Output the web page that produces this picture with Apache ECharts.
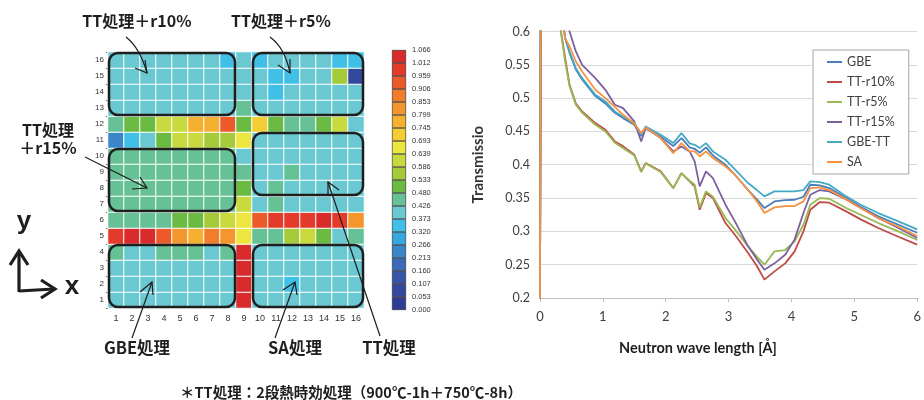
<!DOCTYPE html>
<html><head><meta charset="utf-8">
<script src="https://cdn.jsdelivr.net/npm/echarts@6/dist/echarts.min.js"></script>
<style>html,body{margin:0;padding:0;background:#fff}#c{width:924px;height:400px}</style>
</head><body><div id="c"></div><script>
// ---------- heatmap data ----------
const colLabels = ['1','2','3','4','5','6','7','8','9','10','11','12','13','14','15','16'];
const rowLabels = ['1','2','3','4','5','6','7','8','9','10','11','12','13','14','15','16'];
const row1  = [0.40,0.40,0.40,0.40,0.40,0.40,0.40,0.40,1.04,0.40,0.40,0.40,0.40,0.40,0.40,0.40];
const row2  = [0.40,0.40,0.40,0.40,0.40,0.40,0.40,0.40,1.04,0.40,0.40,0.35,0.40,0.40,0.40,0.40];
const row3  = [0.40,0.40,0.40,0.40,0.40,0.40,0.40,0.40,1.04,0.40,0.40,0.40,0.40,0.40,0.40,0.40];
const row4  = [0.45,0.40,0.40,0.45,0.45,0.45,0.40,0.45,1.04,0.40,0.40,0.40,0.40,0.40,0.40,0.40];
const row5  = [0.99,1.04,1.04,0.93,0.83,0.77,0.88,0.83,0.66,0.45,0.45,0.56,0.61,0.51,0.40,0.45];
const row6  = [0.45,0.45,0.45,0.45,0.51,0.51,0.56,0.61,0.66,0.93,0.99,0.99,0.99,1.04,0.99,0.83];
const row7  = [0.45,0.45,0.45,0.45,0.45,0.45,0.45,0.45,0.61,0.40,0.45,0.40,0.40,0.40,0.40,0.40];
const row8  = [0.45,0.45,0.45,0.45,0.45,0.45,0.45,0.45,0.51,0.40,0.45,0.40,0.40,0.40,0.40,0.40];
const row9  = [0.45,0.45,0.45,0.45,0.45,0.45,0.45,0.45,0.45,0.40,0.40,0.45,0.40,0.40,0.40,0.40];
const row10 = [0.45,0.45,0.45,0.45,0.45,0.45,0.45,0.45,0.40,0.40,0.40,0.40,0.40,0.40,0.40,0.40];
const row11 = [0.24,0.35,0.40,0.51,0.61,0.61,0.56,0.56,0.66,0.40,0.40,0.40,0.40,0.40,0.40,0.40];
const row12 = [0.45,0.51,0.51,0.61,0.61,0.77,0.77,0.93,0.51,0.72,0.51,0.45,0.45,0.51,0.61,0.40];
const row13 = [0.40,0.40,0.40,0.40,0.40,0.40,0.40,0.40,0.45,0.40,0.40,0.40,0.40,0.40,0.40,0.40];
const row14 = [0.40,0.40,0.40,0.40,0.40,0.40,0.40,0.40,0.40,0.40,0.35,0.40,0.40,0.40,0.40,0.40];
const row15 = [0.40,0.40,0.40,0.40,0.40,0.40,0.40,0.40,0.40,0.40,0.35,0.35,0.40,0.40,0.56,0.08];
const row16 = [0.40,0.40,0.40,0.40,0.40,0.40,0.40,0.35,0.40,0.35,0.40,0.40,0.40,0.40,0.35,0.35];
const cellRows = [row1,row2,row3,row4,row5,row6,row7,row8,row9,row10,row11,row12,row13,row14,row15,row16];

// colour-scale tick labels (band boundaries) and band colours (low -> high)
const scaleTicks = ['0.000','0.053','0.107','0.160','0.213','0.266','0.320','0.373','0.426','0.480','0.533','0.586','0.639','0.693','0.745','0.799','0.853','0.906','0.959','1.012','1.066'];
const scaleColors = ['#2f3c96','#34489e','#3755a8','#3a6ab8','#3a86c8','#35a8de','#40c0e6','#6ac8d2','#66c196','#6bbb42','#a5cb3b','#c9da3e','#ece63f','#f4cc34','#f6b02f','#f4962e','#f07c2c','#ec5a2a','#e33a2a','#d92b2b'];

// ---------- transmission data ----------
const lambda = [0,0.02,0.3,0.4,0.47,0.57,0.67,0.88,1.04,1.19,1.32,1.50,1.61,1.68,1.92,2.12,2.25,2.38,2.46,2.54,2.64,2.75,2.95,3.10,3.31,3.45,3.57,3.73,3.90,4.05,4.19,4.30,4.45,4.60,4.87,5.10,5.38,5.70,6.0];
const seriesNames = ['GBE','TT-r10%','TT-r5%','TT-r15%','GBE-TT','SA'];
const gbe   = [0.19,1.0,0.66,0.59,0.568,0.543,0.528,0.503,0.492,0.478,0.47,0.46,0.443,0.455,0.442,0.428,0.44,0.426,0.424,0.418,0.426,0.414,0.40,0.385,0.362,0.348,0.335,0.345,0.347,0.3475,0.352,0.37,0.369,0.365,0.35,0.337,0.3225,0.31,0.298];
const ttr10 = [0.19,1.0,0.62,0.56,0.52,0.492,0.48,0.4625,0.4525,0.435,0.428,0.415,0.39,0.4025,0.39,0.365,0.3875,0.375,0.3675,0.3325,0.3575,0.35,0.3125,0.295,0.2675,0.248,0.2275,0.24,0.252,0.27,0.30,0.3325,0.344,0.343,0.33,0.318,0.305,0.292,0.28];
const ttr5  = [0.19,1.0,0.62,0.555,0.518,0.49,0.478,0.46,0.45,0.433,0.425,0.414,0.389,0.402,0.389,0.365,0.387,0.376,0.37,0.336,0.36,0.352,0.32,0.303,0.2775,0.262,0.25,0.27,0.272,0.285,0.31,0.34,0.35,0.349,0.335,0.325,0.3125,0.30,0.287];
const ttr15 = [0.19,1.0,0.70,0.64,0.60,0.57,0.55,0.53,0.5125,0.49,0.485,0.465,0.435,0.455,0.44,0.42,0.4275,0.42,0.405,0.3675,0.39,0.38,0.34,0.315,0.2775,0.258,0.2425,0.252,0.265,0.288,0.3275,0.355,0.362,0.36,0.348,0.335,0.32,0.305,0.29];
const gbett = [0.19,1.0,0.66,0.59,0.57,0.545,0.53,0.505,0.495,0.48,0.472,0.4625,0.445,0.4575,0.445,0.4325,0.4475,0.432,0.43,0.425,0.4325,0.42,0.4075,0.393,0.3725,0.362,0.3525,0.36,0.36,0.36,0.362,0.375,0.374,0.37,0.3525,0.34,0.3275,0.315,0.303];
const sa    = [0.19,1.0,0.66,0.59,0.5775,0.555,0.54,0.5125,0.50,0.487,0.475,0.462,0.4475,0.456,0.44,0.4175,0.4325,0.42,0.42,0.4125,0.42,0.41,0.3975,0.385,0.362,0.345,0.3275,0.336,0.338,0.338,0.345,0.365,0.366,0.362,0.348,0.335,0.32,0.307,0.293];
const lineValues = [gbe, ttr10, ttr5, ttr15, gbett, sa];
const lineColors = ['#4a7ebb','#be4b48','#98b954','#7d60a0','#46aac5','#f69240'];

// annotation boxes on the map: [firstCol,lastCol,firstRow,lastRow]
const boxes = [[1,8,13,16],[10,16,13,16],[1,8,7,10],[10,16,8,11],[1,8,1,4],[10,16,1,4]];

const chart = echarts.init(document.getElementById('c'), null, {renderer:'canvas'});

const heatData = [];
cellRows.forEach((r, ri) => r.forEach((v, ci) => heatData.push([ci, ri, v])));
const thresholds = scaleTicks.map(Number);
const pieces = scaleColors.map((c, i) => ({gte: thresholds[i], lt: i === scaleColors.length - 1 ? 10 : thresholds[i+1], color: c}));

const series = [{
  type: 'heatmap', xAxisIndex: 0, yAxisIndex: 0, data: heatData,
  itemStyle: {borderColor: '#ffffff', borderWidth: 1}
}];
scaleColors.forEach((c, i) => series.push({
  type: 'bar', xAxisIndex: 1, yAxisIndex: 1, stack: 'scale', data: [1], barWidth: '100%',
  itemStyle: {color: c, borderColor: '#222', borderWidth: 0.6}, silent: true
}));
seriesNames.forEach((n, i) => series.push({
  type: 'line', name: n, xAxisIndex: 2, yAxisIndex: 2, symbol: 'none', clip: true,
  data: lambda.map((x, k) => [x, lineValues[i][k]]),
  lineStyle: {color: lineColors[i], width: 1.8}, itemStyle: {color: lineColors[i]}
}));

const option = {
  animation: false,
  textStyle: {fontFamily: 'Liberation Sans'},
  grid: [
    {left: 108, top: 52, width: 256, height: 256},
    {left: 392, top: 50, width: 14, height: 260},
    {left: 540, top: 31.5, width: 386, height: 266.5}
  ],
  xAxis: [
    {gridIndex: 0, type: 'category', data: colLabels, axisLine: {show: false}, axisTick: {show: false},
     axisLabel: {fontSize: 9, color: '#333', margin: 6}},
    {gridIndex: 1, type: 'category', data: [''], show: false},
    {gridIndex: 2, type: 'value', min: 0, max: 6, interval: 1,
     axisLine: {lineStyle: {color: '#bfbfbf'}}, axisTick: {show: true, length: 4, lineStyle: {color: '#bfbfbf'}},
     splitLine: {show: false}, axisLabel: {fontSize: 13, color: '#404040', margin: 12, fontFamily: 'Lato'}}
  ],
  yAxis: [
    {gridIndex: 0, type: 'category', data: rowLabels, axisLine: {show: false},
     axisTick: {show: true, length: 2, lineStyle: {color: '#666'}},
     axisLabel: {fontSize: 8, color: '#333', margin: 4}},
    {gridIndex: 1, type: 'value', min: 0, max: 20, interval: 1, position: 'right',
     axisLine: {show: false}, axisTick: {show: false}, splitLine: {show: false},
     axisLabel: {fontSize: 7.5, color: '#333', margin: 6, formatter: v => scaleTicks[Math.round(v)]}},
    {gridIndex: 2, type: 'value', min: 0.2, max: 0.6, interval: 0.05,
     axisLine: {show: false}, axisTick: {show: false},
     splitLine: {lineStyle: {color: '#d9d9d9'}},
     axisLabel: {fontSize: 12.5, color: '#404040', margin: 10, fontFamily: 'Lato'},
     name: 'Transmissio', nameLocation: 'middle', nameGap: 54, nameRotate: 90,
     nameTextStyle: {fontSize: 15, fontWeight: 'bold', color: '#333', fontFamily: 'Lato'}}
  ],
  visualMap: {type: 'piecewise', show: false, seriesIndex: 0, dimension: 2, pieces: pieces},
  legend: {
    data: seriesNames, orient: 'vertical', left: 813, top: 50, icon: 'rect', itemWidth: 15, itemHeight: 2,
    itemGap: 6, itemTextGap: 3, padding: [5, 14, 5, 14], backgroundColor: '#fff',
    borderColor: '#a6a6a6', borderWidth: 1,
    textStyle: {fontSize: 12.5, lineHeight: 14, color: '#404040', fontFamily: 'Lato'}
  },
  series: series
};
chart.setOption(option);

// ---------- annotations ----------
const jp = 'Noto Sans CJK JP';
const g = [];
const cx = (c) => chart.convertToPixel({xAxisIndex: 0, yAxisIndex: 0}, [colLabels[c-1], rowLabels[0]])[0];
const cy = (r) => chart.convertToPixel({xAxisIndex: 0, yAxisIndex: 0}, [colLabels[0], rowLabels[r-1]])[1];
const cw = cx(2) - cx(1), ch = cy(1) - cy(2);
boxes.forEach(b => {
  const x0 = cx(b[0]) - cw/2 + 1, x1 = cx(b[1]) + cw/2 - 1;
  const y0 = cy(b[3]) - ch/2 + 1, y1 = cy(b[2]) + ch/2 - 1;
  g.push({type: 'rect', z: 100, shape: {x: x0, y: y0, width: x1 - x0, height: y1 - y0, r: 9},
          style: {fill: 'transparent', stroke: '#1e1e1e', lineWidth: 2.5}});
});
function txt(t, x, y, size, align, weight, family) {
  g.push({type: 'text', z: 100, style: {text: t, x: x, y: y, font: (weight||'bold') + ' ' + size + 'px "' + (family||jp) + '"',
    fill: '#1e1e1e', align: align||'center', textAlign: align||'center', verticalAlign: 'middle', textVerticalAlign: 'middle'}});
}
function curve(x1, y1, cpx, cpy, x2, y2, w) {
  g.push({type: 'bezierCurve', z: 100, shape: {x1: x1, y1: y1, x2: x2, y2: y2, cpx1: cpx, cpy1: cpy},
          style: {stroke: '#1e1e1e', lineWidth: w||1.2, fill: null}});
}
function pl(pts, w) {
  g.push({type: 'polyline', z: 100, shape: {points: pts}, style: {stroke: '#1e1e1e', lineWidth: w||1.2, fill: null}});
}
txt('TT処理＋r10%', 137, 21, 16);
txt('TT処理＋r5%', 281, 21, 16);
txt('TT処理', 48, 130, 16);
txt('＋r15%', 48, 148, 16);
txt('GBE処理', 137, 348, 16.5);
txt('SA処理', 295, 348, 16.5);
txt('TT処理', 389, 348, 16.5);
txt('y', 24, 222, 26, 'center', 'bold', 'Liberation Sans');
txt('x', 72, 287, 26, 'center', 'bold', 'Liberation Sans');
txt('＊TT処理：2段熱時効処理（900℃-1h＋750℃-8h）', 351, 392, 14.5);
txt('Neutron wave length [Å]', 698, 348, 14.5, 'center', 'bold', 'Lato');

// arrows
curve(126, 37, 140, 48, 147, 73); pl([[135, 68], [147, 73], [145, 60]]);
curve(270, 37, 285, 48, 290, 73); pl([[278, 65], [290, 73], [290, 59]]);
pl([[85, 157], [147, 188]]); pl([[132, 189], [147, 188], [140, 177]]);
pl([[132, 338], [152, 282]]); pl([[140, 292], [152, 282], [153, 295]]);
pl([[275, 338], [295, 282]]); pl([[283, 290], [295, 282], [297, 295]]);
pl([[380, 336], [328, 182]]); pl([[328, 195], [328, 182], [339, 190]]);
// x / y direction glyph
pl([[19, 292], [19, 252]], 3.2); pl([[10, 265], [19, 251], [28, 265]], 3.2);
pl([[19, 291], [54, 289]], 3.2); pl([[41, 280], [55, 289], [41, 298]], 3.2);

chart.setOption({graphic: g});
</script></body></html>
